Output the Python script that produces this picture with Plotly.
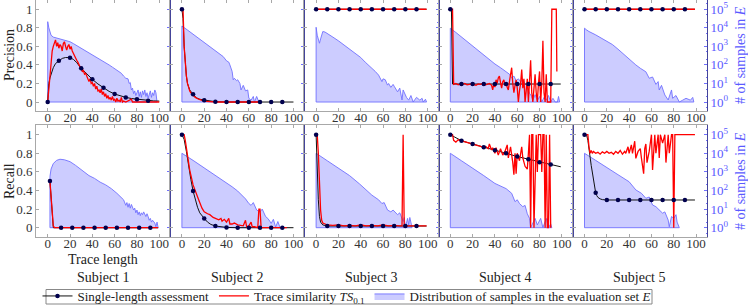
import plotly.graph_objects as go

# ---------------- labels / ticks ----------------
subjects = ["Subject 1", "Subject 2", "Subject 3", "Subject 4", "Subject 5"]
row_titles = ["Precision", "Recall"]
count_title = "# of samples in <i>E</i>"
score_ticks = [0, 0.2, 0.4, 0.6, 0.8, 1]
score_tick_labels = ["0", "0.2", "0.4", "0.6", "0.8", "1"]
length_ticks = [0, 20, 40, 60, 80, 100]
count_ticks = [1, 10, 100, 1000, 10000, 100000]
count_tick_labels = ["10<sup>0</sup>", "10<sup>1</sup>", "10<sup>2</sup>",
                     "10<sup>3</sup>", "10<sup>4</sup>", "10<sup>5</sup>"]
marks_std = [0, 10, 20, 30, 40, 50, 60, 70, 80, 90]
marks_r1 = [2, 12, 22, 32, 42, 52, 62, 72, 82, 92]

# ---------------- data: (trace length, value) ----------------
# distributions are given as log10(# of samples in E)
p1_dist = [(0,4.33),(1,4.0),(2,3.75),(3,3.6),(5,3.5),(8,3.45),(10,3.43),(13,3.4),(15,3.35),(18,3.3),(20,3.25),
           (23,3.15),(25,3.08),(28,2.98),(30,2.9),(33,2.8),(35,2.73),(38,2.63),(40,2.55),(43,2.45),(45,2.38),
           (48,2.28),(50,2.18),(53,2.08),(55,2.0),(58,1.88),(60,1.8),(62,1.73),(64,1.63),(66,1.55),(68,1.4),
           (70,1.28),(72,1.25),(73,1.0),(74,1.05),(75,0.65),(76,0.75),(77,0.45),(78,0.6),(79,0.35),(80,0.5),
           (81,0.65),(82,0.3),(83,0.55),(84,0.25),(85,0.6),(86,0.4),(87,0.65),(88,0.3),(89,0.5),(90,0.2),
           (91,0.45),(92,0.6),(93,0.25),(94,0.5),(95,0.35),(96,0.65),(97,0.5),(98,0.0)]
p1_ts = [(0,0),(1,0.15),(2,0.3),(3,0.45),(4,0.55),(5,0.6),(6,0.65),(7,0.67),(8,0.6),(9,0.64),(10,0.58),(11,0.62),
         (12,0.6),(13,0.55),(14,0.63),(15,0.65),(16,0.6),(17,0.56),(18,0.6),(19,0.62),(20,0.57),(21,0.6),(22,0.55),
         (23,0.52),(24,0.5),(25,0.48),(26,0.45),(27,0.43),(28,0.4),(29,0.38),(30,0.36),(31,0.33),(32,0.34),(33,0.3),
         (34,0.31),(35,0.28),(36,0.27),(37,0.22),(38,0.25),(39,0.2),(40,0.21),(41,0.17),(42,0.2),(43,0.14),(44,0.17),
         (45,0.12),(46,0.13),(47,0.1),(48,0.14),(49,0.08),(50,0.11),(51,0.06),(52,0.09),(53,0.04),(54,0.07),(55,0.03),
         (56,0.05),(57,0.02),(58,0.06),(59,0.02),(60,0.03),(61,0.0),(62,0.04),(63,0.01),(64,0.02),(65,0.0),(66,0.05),
         (67,0.0),(68,0.01),(70,0.0),(75,0.03),(76,0.0),(100,0.0)]
p1_single = [(0,0),(1,0.2),(2,0.26),(3,0.3),(5,0.37),(7,0.415),(10,0.446),(13,0.47),(16,0.48),(20,0.478),(23,0.46),
             (26,0.425),(30,0.363),(35,0.3),(40,0.245),(45,0.195),(50,0.155),(55,0.115),(60,0.086),(65,0.065),
             (70,0.05),(75,0.038),(80,0.03),(85,0.02),(90,0.015),(95,0.012),(100,0.01)]

p2_dist = [(0,4.1),(5,3.88),(10,3.65),(15,3.43),(20,3.2),(25,2.98),(30,2.75),(33,2.6),(35,2.52),(37,2.45),(40,2.22),
           (42,2.15),(43,2.0),(45,1.65),(46,1.2),(47,1.28),(49,1.15),(50,1.2),(52,1.0),(53,0.65),(55,0.9),(57,0.6),
           (59,0.65),(60,0.2),(62,0.1),(64,0.3),(65,0.0),(67,0.3),(69,0.0)]
p2_ts = [(0,1),(1,1),(2,0.6),(3,0.4),(4,0.28),(5,0.2),(6,0.15),(7,0.12),(8,0.1),(10,0.075),(12,0.05),(15,0.03),
         (18,0.015),(20,0.01),(25,0.005),(30,0),(70,0)]
p2_single = [(0,1),(1,0.9),(2,0.6),(3,0.4),(4,0.28),(5,0.2),(7,0.13),(10,0.083),(13,0.045),(16,0.03),(20,0.02),
             (25,0.008),(30,0.003),(40,0),(50,0),(60,0),(70,0),(80,0),(90,0),(100,0)]

p3_dist = [(0,4.03),(1,3.6),(2,3.3),(3,3.17),(4,3.4),(5,3.7),(6,3.8),(8,3.77),(10,3.7),(15,3.5),(20,3.3),(25,3.08),
           (30,2.85),(35,2.62),(40,2.4),(44,2.15),(47,2.0),(50,1.82),(53,1.65),(56,1.45),(59,1.1),(60,1.25),(62,1.2),
           (64,0.91),(65,1.0),(67,0.79),(69,0.95),(70,0.85),(73,0.55),(75,0.75),(77,0.11),(78,0.65),(80,0.4),
           (81,0.25),(83,0.1),(85,0.35),(87,0.0),(90,0.25),(93,0.1),(95,0.2),(96,0.0),(98,0.15),(99,0.0)]
p3_ts = [(0,1),(99,1)]
p3_single = [(0,1),(10,1),(20,1),(30,1),(40,1),(50,1),(60,1),(70,1),(80,1),(90,1),(99,1)]

p4_dist = [(0,3.98),(5,3.75),(10,3.5),(15,3.27),(20,3.03),(25,2.8),(30,2.55),(35,2.3),(40,2.05),(45,1.85),(50,1.63),
           (53,1.5),(55,1.3),(57,1.4),(59,1.15),(61,1.25),(63,1.1),(65,1.2),(67,1.0),(69,0.85),(71,0.47),(73,0.3),
           (74,0.1),(76,0.4),(78,0.05),(80,0.3),(82,0.0),(84,0.25),(86,0.1),(88,0.35),(90,0.0),(92,0.2),(94,0.0),
           (96,0.0),(97,0.3),(98,0.0)]
p4_ts = [(0,1),(1,1),(2,1),(3,0.19),(5,0.2),(7,0.185),(9,0.195),(11,0.19),(13,0.2),(15,0.185),(17,0.19),(19,0.195),
         (21,0.19),(23,0.18),(25,0.195),(27,0.19),(29,0.2),(31,0.185),(33,0.19),(35,0.2),(37,0.18),(38,0.13),
         (39,0.2),(40,0.16),(41,0.24),(42,0.2),(43,0.26),(44,0.28),(45,0.21),(46,0.15),(47,0.22),(48,0.24),
         (49,0.18),(50,0.21),(51,0.16),(52,0.13),(53,0.22),(54,0.3),(55,0.37),(56,0.2),(57,0.1),(58,0.18),
         (59,0.24),(60,0.15),(61,0.0),(62,0.12),(63,0.2),(64,0.35),(65,0.15),(66,0.25),(67,0.0),(68,0.12),
         (69,0.25),(70,0.0),(71,0.2),(72,0.45),(73,0.1),(74,0.0),(75,0.15),(76,0.3),(77,0.1),(78,0.0),(79,0.2),
         (80,0.33),(81,0.0),(82,0.2),(83,0.66),(84,0.1),(85,0.0),(86,0.3),(87,0.0),(90,0.0),(91,1.0),(95,1.0),
         (95.5,0.33)]
p4_single = [(0,1),(1,1),(2,0.194),(10,0.194),(20,0.194),(30,0.194),(40,0.194),(50,0.194),(60,0.194),(70,0.194),
             (80,0.194),(90,0.194),(99,0.194)]

p5_dist = [(0,3.98),(2,3.88),(4,3.8),(10,3.62),(15,3.45),(19,3.35),(25,3.1),(30,2.85),(34,2.63),(40,2.3),(46,2.0),
           (50,1.82),(55,1.63),(58,1.28),(61,1.35),(64,0.95),(66,1.1),(67,0.65),(69,0.9),(72,0.38),(75,0.11),
           (78,0.65),(79,0.2),(82,0.35),(85,0.0),(88,0.1),(91,0.2),(95,0.1),(97,0.25),(98,0.0)]
p5_ts = [(0,1),(99,1)]
p5_single = [(0,1),(10,1),(20,1),(30,1),(40,1),(50,1),(60,1),(70,1),(80,1),(90,1),(99,1)]

r1_dist = [(2,2.75),(3,3.15),(5,3.45),(8,3.62),(11,3.68),(15,3.65),(20,3.55),(25,3.35),(32,3.0),(37,2.8),(42,2.65),
           (47,2.45),(52,2.3),(57,2.1),(62,1.85),(66,1.65),(68,1.5),(70,1.2),(71,1.35),(72,1.1),(73,1.3),(74,1.05),
           (75,1.25),(77,0.95),(78,1.05),(79,0.8),(80,0.95),(81,0.7),(82,0.85),(83,0.65),(84,0.8),(85,0.7),(86,0.85),
           (88,0.6),(89,0.75),(90,0.6),(91,0.4),(92,0.5),(93,0.3),(94,0.4),(96,0.25),(97,0.05),(98,0.3),(99,0.0)]
r1_ts = [(2,0.5),(3,0.3),(4,0.12),(5,0.02),(6,0.0),(99,0.0)]
r1_single = [(2,0.502),(3,0.3),(4,0.08),(5,0.0),(12,0),(22,0),(32,0),(42,0),(52,0),(62,0),(72,0),(82,0),(92,0),(99,0)]

r2_dist = [(0,4.0),(10,3.62),(20,3.22),(30,2.8),(35,2.6),(40,2.38),(45,2.2),(50,1.97),(53,1.8),(55,1.67),(57,1.55),
           (60,1.3),(62,1.2),(64,1.35),(67,0.95),(70,0.85),(72,1.0),(75,0.6),(77,0.5),(79,0.33),(80,0.23),(82,0.45),
           (84,0.03),(86,0.33),(88,0.0)]
r2_ts = [(0,1),(2,1),(3,0.94),(5,0.8),(7,0.62),(10,0.46),(13,0.35),(15,0.3),(18,0.21),(20,0.17),(23,0.15),(25,0.14),
         (28,0.11),(30,0.1),(33,0.085),(35,0.1),(36,0.07),(38,0.09),(40,0.06),(42,0.1),(43,0.04),(45,0.04),(47,0.05),
         (50,0.03),(55,0.02),(57,0.08),(58,0.01),(60,0.02),(62,0.06),(63,0.01),(65,0.01),(68,0.0),(69,0.2),(70,0.2),
         (71,0.0),(75,0.0),(94,0.0)]
r2_single = [(0,1),(2,0.95),(4,0.82),(6,0.65),(8,0.52),(10,0.395),(12,0.3),(14,0.22),(16,0.16),(18,0.125),(20,0.1),
             (23,0.06),(26,0.035),(30,0.018),(35,0.008),(40,0.003),(50,0),(60,0),(70,0),(80,0),(90,0),(100,0)]

r3_dist = [(0,4.0),(10,3.6),(20,3.2),(30,2.8),(39,2.35),(45,2.03),(50,1.75),(56,1.5),(59,1.3),(61,1.35),(64,0.95),
           (67,0.85),(69,0.95),(73,0.7),(75,0.8),(78,0.33),(79,0.55),(80,0.0),(82,0.5),(83,0.15),(84,0.55),(86,0.0)]
r3_ts = [(0,1),(1,1),(2,0.8),(3,0.44),(4,0.19),(5,0.08),(6,0.05),(8,0.04),(10,0.03),(15,0.025),(20,0.03),(25,0.02),
         (30,0.025),(35,0.02),(40,0.03),(45,0.02),(50,0.025),(55,0.02),(60,0.03),(65,0.02),(70,0.025),(75,0.02),
         (77,0.02),(78,1.0),(79,0.0),(80,0.02),(85,0.02),(90,0.02),(95,0.02),(99,0.02)]
r3_single = [(0,1),(1,0.6),(2,0.3),(3,0.12),(4,0.06),(6,0.03),(10,0.018),(20,0.018),(30,0.018),(40,0.018),
             (50,0.018),(60,0.018),(70,0.018),(80,0.018),(90,0.018),(99,0.018)]

r4_dist = [(0,4.0),(10,3.6),(20,3.22),(30,2.8),(40,2.38),(50,2.1),(55,1.85),(58,1.4),(60,1.5),(62,1.3),(65,1.13),
           (67,1.2),(69,0.75),(71,0.5),(72,0.0),(74,0.25),(76,0.5),(78,0.15),(80,0.4),(81,0.5),(83,0.0),(84,0.2),
           (86,0.5),(88,0.0),(90,0.2),(91,0.0)]
r4_ts = [(0,1),(2,1),(3,0.94),(5,0.92),(7,0.945),(10,0.935),(13,0.92),(15,0.91),(18,0.905),(20,0.9),(23,0.885),
         (25,0.88),(28,0.87),(30,0.865),(32,0.87),(34,0.85),(35,0.9),(37,0.835),(38,0.86),(40,0.8),(41,0.86),
         (43,0.78),(45,0.85),(47,0.78),(49,0.82),(51,0.89),(52,0.75),(54,0.87),(56,0.7),(57,0.57),(58,0.8),
         (59,0.58),(60,0.8),(62,0.72),(64,0.87),(65,0.75),(67,0.66),(69,0.63),(70,0.8),(71,1.0),(72,0.0),(73,1.0),
         (74,1.0),(75,0.0),(76,0.5),(77,1.0),(78,0.6),(79,1.0),(81,1.0),(82,0.6),(83,1.0),(84,1.0),(85,0.0),
         (86,1.0),(87,0.0),(88,0.0),(89,1.0),(90,0.0)]
r4_single = [(0,1),(10,0.935),(20,0.9),(30,0.864),(40,0.832),(50,0.8),(60,0.765),(70,0.735),(80,0.703),(90,0.68),
             (99,0.655)]

r5_dist = [(0,4.0),(10,3.62),(20,3.22),(30,2.85),(40,2.47),(46,2.03),(51,1.85),(55,1.58),(58,1.65),(61,1.22),
           (64,1.13),(67,0.95),(70,0.78),(72,0.85),(75,0.41),(76,0.05),(78,0.6),(80,0.5),(82,0.7),(83,0.3),(85,0.0)]
r5_ts = [(0,1),(3,1),(4,0.87),(5,0.8),(6,0.83),(7,0.8),(8,0.82),(10,0.8),(12,0.81),(14,0.79),(16,0.815),(18,0.8),
         (20,0.82),(22,0.8),(24,0.81),(26,0.79),(28,0.82),(30,0.8),(32,0.83),(34,0.79),(36,0.82),(37,0.8),(39,0.87),
         (40,0.8),(42,0.89),(43,0.8),(45,0.93),(46,0.745),(48,0.82),(50,0.85),(51,0.75),(53,0.58),(54,0.85),
         (55,0.9),(56,0.7),(58,0.82),(60,1.0),(61,0.62),(63,1.0),(64,0.8),(66,1.0),(67,0.75),(68,1.0),(70,0.91),
         (72,1.0),(73,0.7),(75,1.0),(76,0.8),(78,1.0),(79,1.0),(80,0.0),(81,1.0),(99,1.0)]
r5_single = [(0,1),(2,0.99),(3,0.94),(4,0.87),(5,0.76),(6,0.67),(7,0.585),(8,0.5),(9,0.42),(10,0.376),(11,0.345),
             (12,0.326),(14,0.31),(16,0.302),(20,0.298),(30,0.298),(40,0.298),(50,0.298),(60,0.298),(70,0.298),
             (80,0.298),(90,0.298),(99,0.298)]

panels = [
    (0, 0, p1_dist, p1_ts, p1_single, marks_std),
    (0, 1, p2_dist, p2_ts, p2_single, marks_std),
    (0, 2, p3_dist, p3_ts, p3_single, marks_std),
    (0, 3, p4_dist, p4_ts, p4_single, marks_std),
    (0, 4, p5_dist, p5_ts, p5_single, marks_std),
    (1, 0, r1_dist, r1_ts, r1_single, marks_r1),
    (1, 1, r2_dist, r2_ts, r2_single, marks_std),
    (1, 2, r3_dist, r3_ts, r3_single, marks_std),
    (1, 3, r4_dist, r4_ts, r4_single, marks_std),
    (1, 4, r5_dist, r5_ts, r5_single, marks_std),
]

# ---------------- style ----------------
FONT = "Liberation Serif"
GRAY = "#a8a8a8"
BLUE_TXT = "#5a5aff"
NAVY_LINE = "#44449a"
DIST_LINE = "#7070ff"
DIST_FILL = "rgba(0,0,255,0.2)"
RED = "#ff0000"
MARK = "#00004d"
TXT = "#222222"
W, H = 748, 305
ML, MR, MT, MB = 36, 41, 0, 68
row_dom = [[0.5304, 1.0], [0.0, 0.4709]]
col_dom = [[c / 5, (c + 1) / 5] for c in range(5)]


def px_to_paper_x(px):
    return (px - ML) / (W - ML - MR)


def px_to_paper_y(py):
    return (H - MB - py) / (H - MT - MB)


fig = go.Figure()
layout = {}

for i, (r, c, dist, ts, single, marks) in enumerate(panels):
    n = i + 1
    xa = "x" if n == 1 else f"x{n}"
    ylog = "y" if i == 0 else f"y{2 * i + 1}"
    ylin = f"y{2 * i + 2}"

    dx, dl = zip(*dist)
    px = [dx[0]] + list(dx) + [dx[-1], dx[0]]
    py = [1] + [10 ** v for v in dl] + [1, 1]
    fig.add_trace(go.Scatter(
        x=px, y=py, xaxis=xa, yaxis=ylog, mode="lines", fill="toself",
        fillcolor=DIST_FILL, line=dict(color=DIST_LINE, width=0.9),
        name="Distribution of samples in the evaluation set <i>E</i>",
        showlegend=(i == 0), legendrank=3, hoverinfo="skip"))

    sx, sy = zip(*single)
    fig.add_trace(go.Scatter(
        x=sx, y=sy, xaxis=xa, yaxis=ylin, mode="lines",
        line=dict(color="#111111", width=1), showlegend=False, hoverinfo="skip"))

    tx, ty = zip(*ts)
    fig.add_trace(go.Scatter(
        x=tx, y=ty, xaxis=xa, yaxis=ylin, mode="lines",
        line=dict(color=RED, width=1.3),
        name="Trace similarity <i>TS</i><sub>0.1</sub>",
        showlegend=(i == 0), legendrank=2, hoverinfo="skip"))

    lookup = dict(single)
    fig.add_trace(go.Scatter(
        x=marks, y=[lookup[m] for m in marks], xaxis=xa, yaxis=ylin, mode="markers",
        marker=dict(color=MARK, size=4.5), showlegend=False, hoverinfo="skip"))

    xkey = "xaxis" if n == 1 else f"xaxis{n}"
    ylogkey = "yaxis" if i == 0 else f"yaxis{2 * i + 1}"
    ylinkey = f"yaxis{2 * i + 2}"

    layout[xkey] = dict(
        domain=col_dom[c], anchor=ylog, range=[-10.5, 109.8], automargin=False,
        tickvals=length_ticks, ticks="inside", ticklen=3, tickcolor=GRAY,
        showline=True, linecolor=GRAY, linewidth=1, mirror="ticks", ticklabelstandoff=-6,
        showgrid=False, zeroline=False, tickfont=dict(size=13, color="#333333"))

    layout[ylogkey] = dict(
        domain=row_dom[r], anchor=xa, type="log", range=[-0.5, 5.5], side="right", automargin=False,
        tickvals=count_ticks, ticktext=count_tick_labels, showticklabels=(c == 4),
        ticks="inside", ticklen=3, tickcolor=DIST_LINE,
        minor=dict(ticks="inside", ticklen=1.5, tickcolor=DIST_LINE, showgrid=False),
        showline=True, linecolor=NAVY_LINE, linewidth=1, showgrid=False, zeroline=False,
        tickfont=dict(size=13, color=BLUE_TXT))

    layout[ylinkey] = dict(
        domain=row_dom[r], anchor=xa, overlaying=ylog, side="left", range=[-0.1, 1.1], automargin=False,
        tickvals=score_ticks, ticktext=score_tick_labels, showticklabels=(c == 0),
        ticks="inside", ticklen=3, tickcolor=GRAY,
        showline=True, linecolor=GRAY, linewidth=1, showgrid=False, zeroline=False,
        tickfont=dict(size=13, color="#333333"))

# legend-only entry for the single-length assessment
fig.add_trace(go.Scatter(
    x=[None], y=[None], xaxis="x", yaxis="y2", mode="lines+markers",
    line=dict(color="#111111", width=1), marker=dict(color=MARK, size=4.5),
    name="Single-length assessment", legendrank=1))

annotations = []
for c, s in enumerate(subjects):
    annotations.append(dict(text=s, x=(c + 0.5) / 5, y=px_to_paper_y(277), xref="paper", yref="paper",
                            xanchor="center", yanchor="middle", showarrow=False,
                            font=dict(size=14, color=TXT)))
annotations.append(dict(text="Trace length", x=0.1, y=px_to_paper_y(259), xref="paper", yref="paper",
                        xanchor="center", yanchor="middle", showarrow=False,
                        font=dict(size=14, color=TXT)))
row_centers = [55, 181]
for r, t in enumerate(row_titles):
    annotations.append(dict(text=t, x=px_to_paper_x(9), y=px_to_paper_y(row_centers[r]),
                            xref="paper", yref="paper", xanchor="center", yanchor="middle",
                            textangle=-90, showarrow=False, font=dict(size=14, color=TXT)))
    annotations.append(dict(text=count_title, x=px_to_paper_x(740), y=px_to_paper_y(row_centers[r]),
                            xref="paper", yref="paper", xanchor="center", yanchor="middle",
                            textangle=-90, showarrow=False, font=dict(size=14, color=BLUE_TXT)))

# frame around the legend (the legend's own border would be taller than the reference box)
legend_frame = dict(type="rect", xref="paper", yref="paper",
                    x0=px_to_paper_x(46), x1=px_to_paper_x(652),
                    y0=px_to_paper_y(304), y1=px_to_paper_y(289.5),
                    line=dict(color="#888888", width=1), fillcolor="rgba(0,0,0,0)", layer="above")

fig.update_layout(
    width=W, height=H,
    margin=dict(l=ML, r=MR, t=MT, b=MB, autoexpand=False),
    paper_bgcolor="white", plot_bgcolor="white",
    font=dict(family=FONT, size=13, color=TXT),
    annotations=annotations,
    shapes=[legend_frame],
    legend=dict(orientation="h", x=px_to_paper_x(37.5), xanchor="left", y=px_to_paper_y(281), yanchor="top",
                borderwidth=0, bgcolor="rgba(0,0,0,0)",
                font=dict(size=13, color=TXT), itemwidth=30, tracegroupgap=0),
    showlegend=True,
    **layout,
)

fig.write_html("out.html", config={"displayModeBar": False},
               post_script="document.body.style.margin='0';")
